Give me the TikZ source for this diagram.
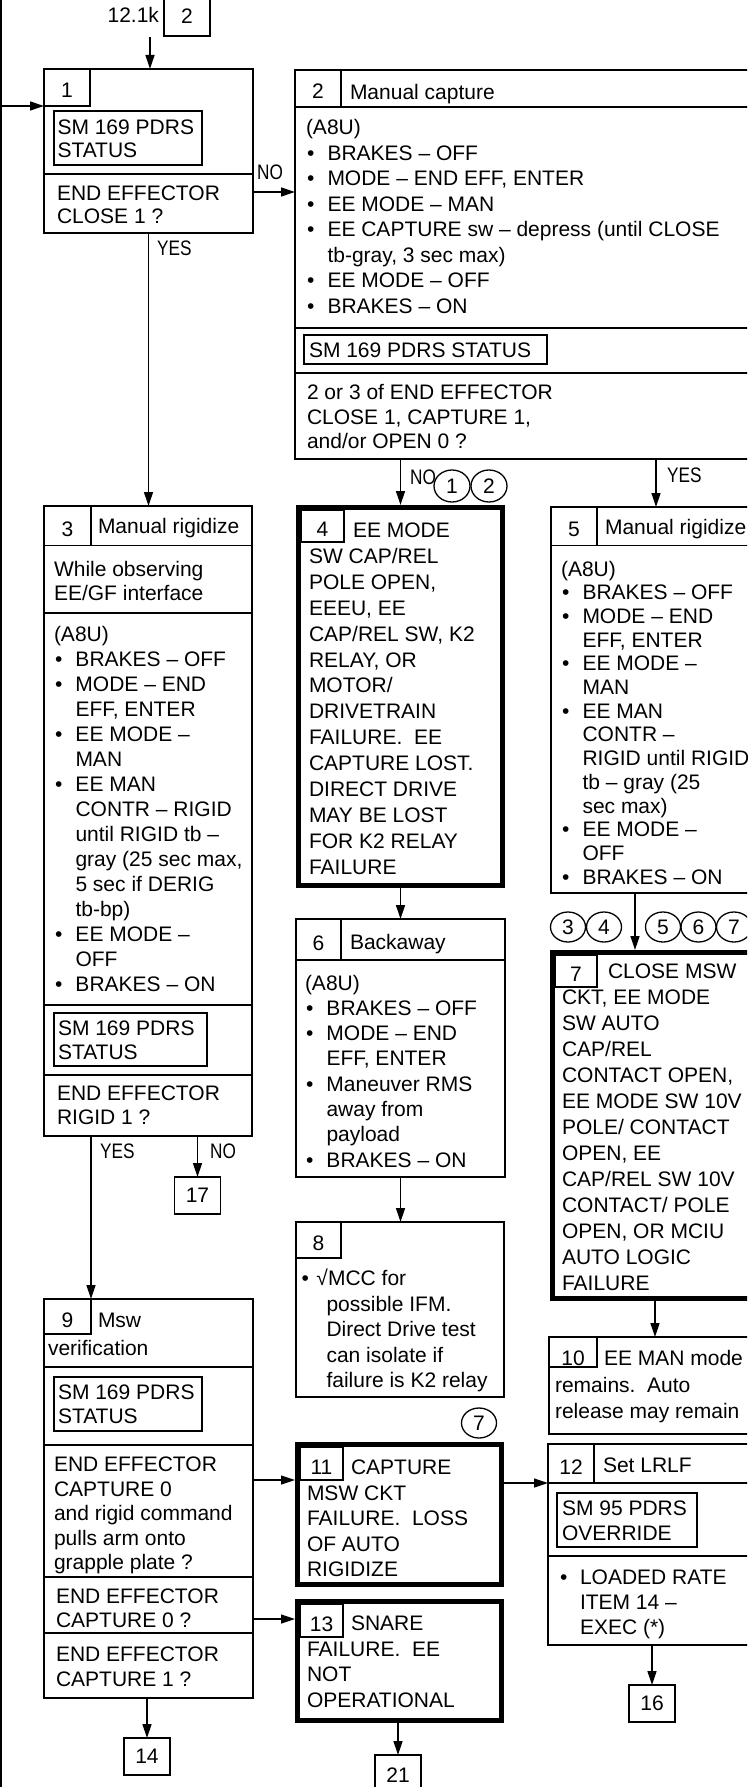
\documentclass[tikz,border=0pt]{standalone}
\usepackage{fontspec}
\setmainfont{Liberation Sans}
\newfontfamily\narrowfont[FakeStretch=0.82]{Liberation Sans}
\usetikzlibrary{arrows.meta,positioning,shapes.geometric}

\newcommand\boxfont{\fontsize{21}{25.5}\selectfont}
\newcommand\bul{\makebox[21.5pt][l]{\hspace{1pt}\textbullet}}
\newcommand\contl{\hspace*{21.5pt}}
\newcommand\textrows[1]{\begin{tabular}[t]{@{}l@{}}#1\end{tabular}}

\begin{document}
\begin{tikzpicture}[x=1pt,y=-1pt,
frame/.style={draw, line width=1.4pt, rectangle, inner sep=0pt, outer sep=0pt, anchor=north west},
heavy/.style={draw, line width=5pt, rectangle, inner sep=0pt, outer sep=2.5pt, anchor=north west},
numcell/.style={draw, line width=1.3pt, inner sep=0pt, outer sep=0pt, anchor=north west, text height=21pt, text depth=0pt, font=\boxfont},
txt/.style={inner sep=0pt, outer sep=0pt, anchor=base west, font=\fontsize{21}{#1}\selectfont},
txt/.default=25.5,
term/.style={draw, line width=1.4pt, minimum width=46pt, minimum height=37pt, inner sep=0pt, outer sep=0pt, font=\boxfont},
conn/.style={ellipse, draw, line width=1.3pt, minimum width=35pt, minimum height=30pt, inner sep=0pt, outer sep=0pt, font=\boxfont},
lbl/.style={inner sep=0pt, anchor=base west, font=\narrowfont\fontsize{21}{25}\selectfont},
arr/.style={line width=1.3pt, -{Triangle[length=14pt,width=9pt]}},
sep/.style={line width=1.4pt}]
\useasboundingbox (0,0) rectangle (747,1787);
\clip (0,0) rectangle (747,1787);

% entry and loop-back
\node[term, anchor=south west, minimum height=40pt] (t2) at (164,36) {2};
\node[txt, anchor=base east] at (159,22.5) {12.1k};
\coordinate (in1) at (150,37);
\coordinate (loopTop) at (1,0);
\coordinate (loopBot) at (1,1787);

% 1
\node[frame, minimum width=209pt, minimum height=164pt] (b1) at (44,69) {};
\node[numcell, minimum width=46pt, minimum height=37pt] (b1n) at (b1.north west) {1};
\node[frame, minimum width=148pt, minimum height=54pt] (b1s) at (54,111) {};
\node[txt=23] at (57.5,134.5) {\textrows{SM 169 PDRS\\STATUS}};
\draw[sep] (b1.west |- 0,174) -- (b1.east |- 0,174);
\node[txt=23.5] at (57,200.5) {\textrows{END EFFECTOR\\CLOSE 1 ?}};

% 2
\node[frame, minimum width=480pt, minimum height=389pt] (b2) at (295,70) {};
\node[numcell, minimum width=46pt, minimum height=37pt] (b2n) at (b2.north west) {2};
\draw[sep] (b2n.south west) -- (b2n.south west -| b2.east);
\node[txt] at (350,99.5) {Manual capture};
\node[txt] at (306,135) {\textrows{(A8U)\\\bul BRAKES – OFF\\\bul MODE – END EFF, ENTER\\\bul EE MODE – MAN\\\bul EE CAPTURE sw – depress (until CLOSE\\\contl tb-gray, 3 sec max)\\\bul EE MODE – OFF\\\bul BRAKES – ON}};
\draw[sep] (b2.west |- 0,328) -- (b2.east |- 0,328);
\node[frame, minimum width=243pt, minimum height=29pt] (b2s) at (304,335) {};
\node[txt] at (309,357.5) {SM 169 PDRS STATUS};
\draw[sep] (b2.west |- 0,373) -- (b2.east |- 0,373);
\node[txt=24.5] at (307,399.5) {\textrows{2 or 3 of END EFFECTOR\\CLOSE 1, CAPTURE 1,\\and/or OPEN 0 ?}};

% 3
\node[frame, minimum width=208pt, minimum height=630pt] (b3) at (44,506) {};
\node[numcell, minimum width=47pt, minimum height=39.5pt] (b3n) at (b3.north west) {3};
\draw[sep] (b3n.south west) -- (b3n.south west -| b3.east);
\node[txt] at (98,533.5) {Manual rigidize};
\node[txt=24.5] at (54,576) {\textrows{While observing\\EE/GF interface}};
\draw[sep] (b3.west |- 0,613) -- (b3.east |- 0,613);
\node[txt=25] at (54,641) {\textrows{(A8U)\\\bul BRAKES – OFF\\\bul MODE – END\\\contl EFF, ENTER\\\bul EE MODE –\\\contl MAN\\\bul EE MAN\\\contl CONTR – RIGID\\\contl until RIGID tb –\\\contl gray (25 sec max,\\\contl 5 sec if DERIG\\\contl tb-bp)\\\bul EE MODE –\\\contl OFF\\\bul BRAKES – ON}};
\draw[sep] (b3.west |- 0,1005) -- (b3.east |- 0,1005);
\node[frame, minimum width=153pt, minimum height=53pt] (b3s) at (54,1013) {};
\node[txt=24] at (58,1035.5) {\textrows{SM 169 PDRS\\STATUS}};
\draw[sep] (b3.west |- 0,1075) -- (b3.east |- 0,1075);
\node[txt=24] at (57,1100.5) {\textrows{END EFFECTOR\\RIGID 1 ?}};

% 4
\node[heavy, minimum width=204pt, minimum height=378pt] (b4) at (296,505) {};
\node[numcell, minimum width=43pt, minimum height=32pt] (b4n) at (301,510) {4};
\node[txt=25.9] at (309,537.5) {\textrows{\hspace*{44pt}EE MODE\\SW CAP/REL\\POLE OPEN,\\EEEU, EE\\CAP/REL SW, K2\\RELAY, OR\\MOTOR/\\DRIVETRAIN\\FAILURE.\ \ EE\\CAPTURE LOST.\\DIRECT DRIVE\\MAY BE LOST\\FOR K2 RELAY\\FAILURE}};

% 5
\node[frame, minimum width=300pt, minimum height=386pt] (b5) at (551,507) {};
\node[numcell, minimum width=46pt, minimum height=38.5pt] (b5n) at (b5.north west) {5};
\draw[sep] (b5n.south west) -- (b5n.south west -| b5.east);
\node[txt] at (605,534.5) {Manual rigidize};
\node[txt=23.7] at (561,576) {\textrows{(A8U)\\\bul BRAKES – OFF\\\bul MODE – END\\\contl EFF, ENTER\\\bul EE MODE –\\\contl MAN\\\bul EE MAN\\\contl CONTR –\\\contl RIGID until RIGID\\\contl tb – gray (25\\\contl sec max)\\\bul EE MODE –\\\contl OFF\\\bul BRAKES – ON}};

% 6
\node[frame, minimum width=209pt, minimum height=258pt] (b6) at (296,919) {};
\node[numcell, minimum width=45pt, minimum height=41pt] (b6n) at (b6.north west) {6};
\draw[sep] (b6n.south west) -- (b6n.south west -| b6.east);
\node[txt] at (350,949.5) {Backaway};
\node[txt=25.3] at (305,990) {\textrows{(A8U)\\\bul BRAKES – OFF\\\bul MODE – END\\\contl EFF, ENTER\\\bul Maneuver RMS\\\contl away from\\\contl payload\\\bul BRAKES – ON}};

% 7
\node[heavy, minimum width=300pt, minimum height=346pt] (b7) at (550,950) {};
\node[numcell, minimum width=42pt, minimum height=32pt] (b7n) at (555,955) {7};
\node[txt=26] at (562,978.5) {\textrows{\hspace*{46pt}CLOSE MSW\\CKT, EE MODE\\SW AUTO\\CAP/REL\\CONTACT OPEN,\\EE MODE SW 10V\\POLE/ CONTACT\\OPEN, EE\\CAP/REL SW 10V\\CONTACT/ POLE\\OPEN, OR MCIU\\AUTO LOGIC\\FAILURE}};

% 8
\node[frame, minimum width=208pt, minimum height=175pt] (b8) at (296,1222) {};
\node[numcell, minimum width=45pt, minimum height=36pt] (b8n) at (b8.north west) {8};
\node[txt=25.5] at (301.5,1285.5) {\textrows{\makebox[15pt][l]{\textbullet}√MCC for\\\hspace*{25pt}possible IFM.\\\hspace*{25pt}Direct Drive test\\\hspace*{25pt}can isolate if\\\hspace*{25pt}failure is K2 relay}};

% 9
\node[frame, minimum width=209pt, minimum height=399pt] (b9) at (44,1299) {};
\node[numcell, minimum width=47pt, minimum height=35pt] (b9n) at (b9.north west) {9};
\node[txt] at (98,1327.5) {Msw};
\node[txt] at (48,1355.5) {verification};
\draw[sep] (b9.west |- 0,1367) -- (b9.east |- 0,1367);
\node[frame, minimum width=148pt, minimum height=54pt] (b9s) at (54,1377) {};
\node[txt=24] at (58,1399.5) {\textrows{SM 169 PDRS\\STATUS}};
\draw[sep] (b9.west |- 0,1445) -- (b9.east |- 0,1445);
\node[txt=24.6] at (54,1471.5) {\textrows{END EFFECTOR\\CAPTURE 0\\and rigid command\\pulls arm onto\\grapple plate ?}};
\draw[sep] (b9.west |- 0,1577) -- (b9.east |- 0,1577);
\node[txt=24] at (56,1603.5) {\textrows{END EFFECTOR\\CAPTURE 0 ?}};
\draw[sep] (b9.west |- 0,1633) -- (b9.east |- 0,1633);
\node[txt=24.5] at (56,1661.5) {\textrows{END EFFECTOR\\CAPTURE 1 ?}};

% 10
\node[frame, minimum width=300pt, minimum height=97pt] (b10) at (549,1337) {};
\node[numcell, minimum width=48pt, minimum height=30pt, text height=27pt] (b10n) at (b10.north west) {10};
\node[txt=26.5] at (555,1365.5) {\textrows{\hspace*{49pt}EE MAN mode\\remains.\ \ Auto\\release may remain}};

% 11
\node[heavy, minimum width=204pt, minimum height=140pt] (b11) at (295,1442) {};
\node[numcell, minimum width=43pt, minimum height=33pt] (b11n) at (300,1447) {11};
\node[txt=25.5] at (307,1474.5) {\textrows{\hspace*{44pt}CAPTURE\\MSW CKT\\FAILURE.\ \ LOSS\\OF AUTO\\RIGIDIZE}};

% 12
\node[frame, minimum width=300pt, minimum height=201pt] (b12) at (548,1444) {};
\node[numcell, minimum width=46pt, minimum height=39pt] (b12n) at (b12.north west) {12};
\draw[sep] (b12n.south west) -- (b12n.south west -| b12.east);
\node[txt] at (603,1472.5) {Set LRLF};
\node[frame, minimum width=140pt, minimum height=54pt] (b12s) at (557,1493) {};
\node[txt=25] at (562,1515.5) {\textrows{SM 95 PDRS\\OVERRIDE}};
\draw[sep] (b12.west |- 0,1556) -- (b12.east |- 0,1556);
\node[txt=25] at (560,1584.5) {\textrows{\makebox[20pt][l]{\textbullet}LOADED RATE\\\hspace*{20pt}ITEM 14 –\\\hspace*{20pt}EXEC (*)}};

% 13
\node[heavy, minimum width=204pt, minimum height=119pt] (b13) at (295,1599) {};
\node[numcell, minimum width=43pt, minimum height=33pt] (b13n) at (300,1604) {13};
\node[txt=25.5] at (307,1630.5) {\textrows{\hspace*{44pt}SNARE\\FAILURE.\ \ EE\\NOT\\OPERATIONAL}};

% exits
\node[term] (t17) at (197.5,1195.5) {17};
\node[term] (t14) at (147,1756.5) {14};
\node[term] (t16) at (652,1703.5) {16};
\node[term, anchor=north, minimum height=40pt] (t21) at (398,1755) {21};

% connectors on the lines
\node[conn, minimum width=36pt, minimum height=32pt] (c1) at (452,486) {1};
\node[conn, minimum width=36pt, minimum height=32pt] (c2) at (489,486) {2};
\node[conn] (c3) at (568,927) {3};
\node[conn] (c4) at (604,927) {4};
\node[conn] (c5) at (663,927) {5};
\node[conn] (c6) at (698.5,927) {6};
\node[conn] (c7) at (734,927) {7};
\node[conn] (c7b) at (479,1423) {7};

\coordinate (col5) at (656,0);
\coordinate (col7) at (635,0);
\coordinate (col10) at (655,0);
\coordinate (row13) at (0,1619);

\draw[sep] (loopTop) -- (loopBot);
\draw[arr] (loopTop |- b1n.south west) -- (b1n.south west);
\draw[arr] (in1) -- (in1 |- b1.north);
\draw[arr] (b1.south) -- (b1.south |- b3.north);
\node[lbl] at (157,255.5) {YES};
\draw[arr] (b1.east |- 0,192) -- (b2.west |- 0,192);
\node[lbl] at (257,179.5) {NO};
\draw[arr] (b4.north |- b2.south) -- (b4.north);
\node[lbl] at (410,484) {NO};
\draw[arr] (col5 |- b2.south) -- (col5 |- b5.north);
\node[lbl] at (667,482.5) {YES};
\draw[arr] (b9n.north east |- b3.south) -- (b9n.north east);
\node[lbl] at (100,1158.5) {YES};
\draw[arr] (t17 |- b3.south) -- (t17.north);
\node[lbl] at (210,1158.5) {NO};
\draw[arr] (b4.south) -- (b4.south |- b6.north);
\draw[arr] (b6.south) -- (b6.south |- b8.north);
\draw[arr] (col7 |- b5.south) -- (col7 |- b7.north);
\draw[arr] (col10 |- b7.south) -- (col10 |- b10.north);
\draw[arr] (b9.east |- b11n.south) -- (b11.west |- b11n.south);
\draw[arr] (b9.east |- row13) -- (b13.west |- row13);
\draw[arr] (b11.east |- b12n.south) -- (b12.west |- b12n.south);
\draw[arr] (t16 |- b12.south) -- (t16.north);
\draw[arr] (t14 |- b9.south) -- (t14.north);
\draw[arr] (t21 |- b13.south) -- (t21.north);
\end{tikzpicture}
\end{document}
